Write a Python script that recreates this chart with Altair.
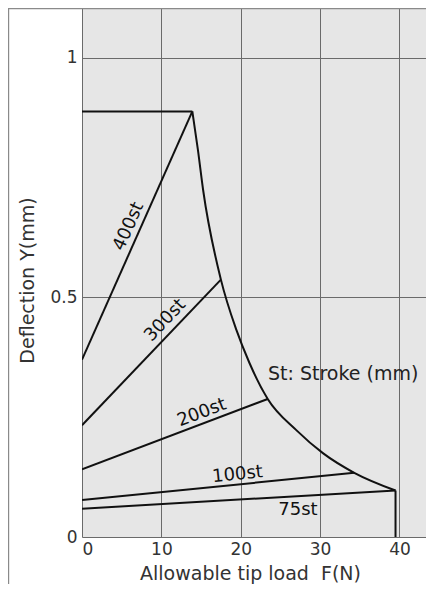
import math
import altair as alt
import pandas as pd

# ---- data ----
top_x = [0, 13.9]
top_y = [0.888, 0.888]
curve_x = [13.9, 14.6, 15.26, 17.5, 19.45, 21.1, 23.4, 27.0, 30.35, 34.3, 39.5]
curve_y = [0.888, 0.808, 0.724, 0.537, 0.432, 0.363, 0.288, 0.223, 0.175, 0.134, 0.097]
end_x = [39.5, 39.5]
end_y = [0.097, 0.0]

stroke_names = ["400st", "300st", "200st", "100st", "75st"]
stroke_x0 = [0, 0, 0, 0, 0]
stroke_y0 = [0.370, 0.233, 0.141, 0.077, 0.059]
stroke_x1 = [13.9, 17.5, 23.4, 34.3, 39.5]
stroke_y1 = [0.888, 0.537, 0.288, 0.134, 0.097]

label_x = [5.9, 10.5, 15.1, 19.6, 27.2]
label_y = [0.648, 0.452, 0.259, 0.130, 0.056]
label_rotate = [True, True, True, True, False]

note_text = "St: Stroke (mm)"
note_x, note_y = 32.9, 0.340

x_ticks = [0, 10, 20, 30, 40]
y_ticks = [0, 0.5, 1]
x_title = "Allowable tip load\u00a0 F(N)"
y_title = "Deflection Y(mm)"

# ---- layout ----
W, H = 344, 529
XMAX, YMAX = 43.34, 1.1037
FONT = "DejaVu Sans"
px = W / XMAX
py = H / YMAX

xs = alt.Scale(domain=[0, XMAX], nice=False, zero=False)
ys = alt.Scale(domain=[0, YMAX], nice=False, zero=False)

rows = []
def add(series, xv, yv):
    for i, (a, b) in enumerate(zip(xv, yv)):
        rows.append({"series": series, "i": i, "x": a, "y": b})

add("top", top_x, top_y)
add("end", end_x, end_y)
for n, a, b, c, d in zip(stroke_names, stroke_x0, stroke_y0, stroke_x1, stroke_y1):
    add(n, [a, c], [b, d])
df = pd.DataFrame(rows)
dfc = pd.DataFrame({"x": curve_x, "y": curve_y, "i": list(range(len(curve_x)))})

lines = alt.Chart(df).mark_line(color="#111111", strokeWidth=2, clip=True).encode(
    x=alt.X("x:Q", scale=xs,
            axis=alt.Axis(values=x_ticks, title=x_title, grid=True,
                          labelPadding=4, titlePadding=7, titleX=168)),
    y=alt.Y("y:Q", scale=ys,
            axis=alt.Axis(values=y_ticks, title=y_title, grid=True,
                          labelExpr="datum.value + ''", labelPadding=5,
                          titlePadding=12, titleY=272)),
    detail="series:N",
    order="i:Q",
)

curve = alt.Chart(dfc).mark_line(color="#111111", strokeWidth=2, clip=True,
                                 interpolate="monotone").encode(
    x=alt.X("x:Q", scale=xs), y=alt.Y("y:Q", scale=ys), order="i:Q")

layers = [lines, curve]
for n, lx, ly, rot, a, b, c, d in zip(stroke_names, label_x, label_y, label_rotate,
                                      stroke_x0, stroke_y0, stroke_x1, stroke_y1):
    ang = 0.0
    if rot:
        ang = math.degrees(math.atan(((d - b) * py) / ((c - a) * px)))
    t = alt.Chart(pd.DataFrame({"x": [lx], "y": [ly], "t": [n]})).mark_text(
        font=FONT, fontSize=18, color="#111111", align="center", baseline="middle",
        angle=(360 - ang) % 360,
    ).encode(x=alt.X("x:Q", scale=xs), y=alt.Y("y:Q", scale=ys), text="t:N")
    layers.append(t)

note = alt.Chart(pd.DataFrame({"x": [note_x], "y": [note_y], "t": [note_text]})).mark_text(
    font=FONT, fontSize=19, color="#222222", align="center", baseline="middle"
).encode(x=alt.X("x:Q", scale=xs), y=alt.Y("y:Q", scale=ys), text="t:N")
layers.append(note)

frame_left = alt.Chart(pd.DataFrame({"a": [0]})).mark_rule(
    color="#8a8a8a", strokeWidth=1.2, clip=False
).encode(x=alt.value(-73.4), y=alt.value(0), y2=alt.value(H + 60))
frame_top = alt.Chart(pd.DataFrame({"a": [0]})).mark_rule(
    color="#8a8a8a", strokeWidth=1.2, clip=False
).encode(x=alt.value(-74), x2=alt.value(W), y=alt.value(0.6))
layers += [frame_left, frame_top]

chart = alt.layer(*layers).properties(
    width=W, height=H,
    autosize=alt.AutoSizeParams(type="none"),
    padding={"left": 74, "top": 0, "right": 0, "bottom": 47},
    background="white",
).configure_view(
    fill="#e6e6e6", stroke=None
).configure_axis(
    gridColor="#6a6a6a", gridWidth=1, gridOpacity=1,
    domain=False, ticks=False,
    labelFont=FONT, labelFontSize=17, labelColor="#333333",
    titleFont=FONT, titleFontSize=19, titleFontWeight="normal", titleColor="#333333",
)

chart.save("out.html", embed_options={"renderer": "svg", "actions": False})
